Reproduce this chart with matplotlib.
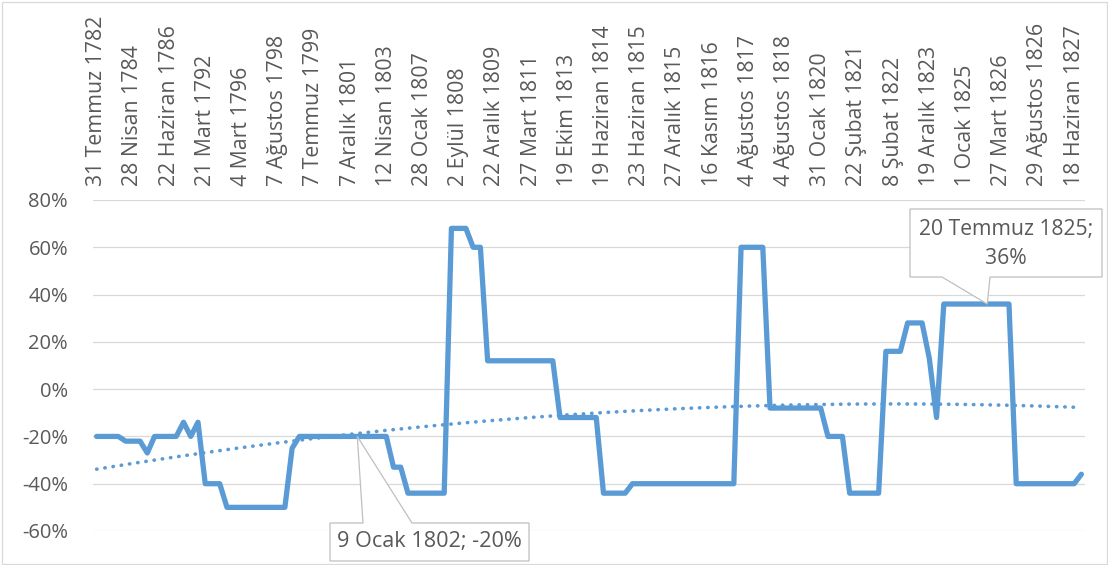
#!/usr/bin/env python3
"""Recreate the percentage line chart with a polynomial trendline and two callouts."""

import matplotlib

matplotlib.use("Agg")
import matplotlib.pyplot as plt
import numpy as np
from matplotlib.patches import Polygon, Rectangle
from matplotlib.transforms import IdentityTransform

# every fifth category carries a tick label
tick_labels = [
    "31 Temmuz 1782", "28 Nisan 1784", "22 Haziran 1786", "21 Mart 1792",
    "4 Mart 1796", "7 Ağustos 1798", "7 Temmuz 1799", "7 Aralık 1801",
    "12 Nisan 1803", "28 Ocak 1807", "2 Eylül 1808", "22 Aralık 1809",
    "27 Mart 1811", "19 Ekim 1813", "19 Haziran 1814", "23 Haziran 1815",
    "27 Aralık 1815", "16 Kasım 1816", "4 Ağustos 1817", "4 Ağustos 1818",
    "31 Ocak 1820", "22 Şubat 1821", "8 Şubat 1822", "19 Aralık 1823",
    "1 Ocak 1825", "27 Mart 1826", "29 Ağustos 1826", "18 Haziran 1827",
]
label_step = 5

values = [
    -0.20, -0.20, -0.20, -0.20, -0.22, -0.22, -0.22, -0.27, -0.20, -0.20,
    -0.20, -0.20, -0.14, -0.20, -0.14, -0.40, -0.40, -0.40, -0.50, -0.50,
    -0.50, -0.50, -0.50, -0.50, -0.50, -0.50, -0.50, -0.25, -0.20, -0.20,
    -0.20, -0.20, -0.20, -0.20, -0.20, -0.20, -0.20, -0.20, -0.20, -0.20,
    -0.20, -0.33, -0.33, -0.44, -0.44, -0.44, -0.44, -0.44, -0.44, 0.68,
    0.68, 0.68, 0.60, 0.60, 0.12, 0.12, 0.12, 0.12, 0.12, 0.12,
    0.12, 0.12, 0.12, 0.12, -0.12, -0.12, -0.12, -0.12, -0.12, -0.12,
    -0.44, -0.44, -0.44, -0.44, -0.40, -0.40, -0.40, -0.40, -0.40, -0.40,
    -0.40, -0.40, -0.40, -0.40, -0.40, -0.40, -0.40, -0.40, -0.40, 0.60,
    0.60, 0.60, 0.60, -0.08, -0.08, -0.08, -0.08, -0.08, -0.08, -0.08,
    -0.08, -0.20, -0.20, -0.20, -0.44, -0.44, -0.44, -0.44, -0.44, 0.16,
    0.16, 0.16, 0.28, 0.28, 0.28, 0.13, -0.12, 0.36, 0.36, 0.36,
    0.36, 0.36, 0.36, 0.36, 0.36, 0.36, 0.36, -0.40, -0.40, -0.40,
    -0.40, -0.40, -0.40, -0.40, -0.40, -0.40, -0.36,
]

# categories that get a callout label
callout_index = [36, 123]
callout_dates = ["9 Ocak 1802", "20 Temmuz 1825"]

y_ticks = [-0.6, -0.4, -0.2, 0.0, 0.2, 0.4, 0.6, 0.8]

BLUE = "#5B9BD5"
GRID = "#D9D9D9"
TEXT = "#595959"
W, H = 1108, 565

plt.rcParams["font.family"] = ["Open Sans", "DejaVu Sans"]

fig = plt.figure(figsize=(W / 100, H / 100), dpi=100)
ax = fig.add_axes([93 / W, 1 - 531 / H, (1085 - 93) / W, (531 - 200) / H])

n = len(values)
idx = np.arange(n)
vals = np.array(values)

ax.plot(idx, vals, color=BLUE, lw=3.8, solid_joinstyle="round",
        solid_capstyle="round", zorder=3)

# Excel-style order 2 polynomial trendline, x counted from 1
x1 = idx + 1
coef = np.polyfit(x1, vals, 2)
ax.plot(idx, np.polyval(coef, x1), color=BLUE, lw=2.6,
        linestyle=(0, (0.1, 2.2)), dash_capstyle="round", zorder=2)

ax.set_xlim(-0.5, n - 0.5)
ax.set_ylim(-0.6, 0.8)
ax.set_yticks(y_ticks)
ax.set_yticklabels([f"{v * 100:.0f}%" for v in y_ticks])
ax.set_xticks(idx[::label_step])
ax.set_xticklabels(tick_labels, rotation=90)
ax.xaxis.tick_top()
ax.tick_params(axis="x", length=0, pad=10, labelsize=15.3, labelcolor=TEXT)
ax.tick_params(axis="y", length=0, pad=18, labelsize=14.5, labelcolor=TEXT)
ax.yaxis.grid(True, color=GRID, lw=0.9)
ax.set_axisbelow(True)
for spine in ax.spines.values():
    spine.set_visible(False)

# chart-area border
fig.patches.append(Rectangle((1.5, 1.5), W - 3, H - 3, transform=IdentityTransform(),
                             fill=False, edgecolor=GRID, lw=0.9))


def px(x, y):
    return (x, H - y)


def add_callout(verts, text, center, size):
    fig.patches.append(Polygon(verts, closed=True, transform=IdentityTransform(),
                               facecolor="white", edgecolor="#BFBFBF", lw=0.9,
                               zorder=5))
    fig.text(*px(*center), text, transform=IdentityTransform(), ha="center",
             va="center", fontsize=size, color=TEXT, zorder=6, linespacing=1.45)


fig.canvas.draw()
tips = [ax.transData.transform((i, vals[i])) for i in callout_index]
texts = [f"{d}; {vals[i] * 100:.0f}%" for d, i in zip(callout_dates, callout_index)]

add_callout([px(330, 523), px(363, 523), tuple(tips[0]), px(412, 523),
             px(529, 523), px(529, 561), px(330, 561)],
            texts[0], (429.5, 542), 15.6)
add_callout([px(910, 209), px(1102, 209), px(1102, 277), px(990, 277),
             tuple(tips[1]), px(942, 277), px(910, 277)],
            texts[1].replace("; ", ";\n"), (1006, 244), 15.2)

fig.savefig("out.png", dpi=100)
plt.close(fig)
